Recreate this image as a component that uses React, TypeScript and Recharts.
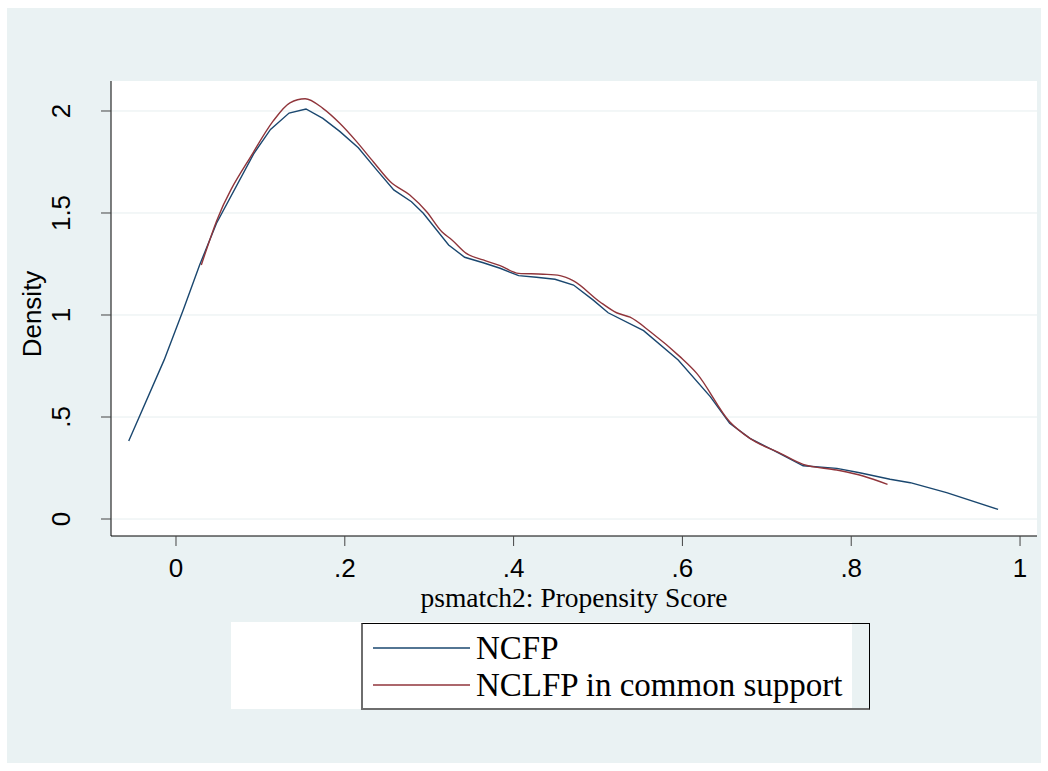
import { LineChart, Line, XAxis, YAxis, CartesianGrid, Label } from 'recharts'

// NCFP kernel density
const ncfpX = [
  -0.056, -0.014, 0.009, 0.028, 0.048, 0.092, 0.112, 0.134, 0.154, 0.174, 0.194, 0.216,
  0.238, 0.258, 0.279, 0.293, 0.323, 0.342, 0.364, 0.384, 0.406, 0.427, 0.449, 0.471,
  0.494, 0.512, 0.554, 0.595, 0.633, 0.656, 0.68, 0.716, 0.743, 0.783, 0.81, 0.846,
  0.87, 0.913, 0.974,
]
const ncfpY = [
  0.382, 0.78, 1.03, 1.245, 1.45, 1.79, 1.91, 1.99, 2.01, 1.964, 1.9, 1.82,
  1.71, 1.613, 1.555, 1.499, 1.343, 1.283, 1.256, 1.229, 1.193, 1.185, 1.175, 1.147,
  1.074, 1.011, 0.923, 0.779, 0.6, 0.469, 0.395, 0.319, 0.261, 0.248, 0.227, 0.195,
  0.178, 0.129, 0.047,
]

// NCLFP in common support
const nclfpX = [
  0.03, 0.048, 0.092, 0.115, 0.135, 0.153, 0.174, 0.194, 0.214, 0.234, 0.254, 0.277,
  0.297, 0.315, 0.327, 0.344, 0.364, 0.384, 0.406, 0.435, 0.455, 0.471, 0.502, 0.522,
  0.538, 0.562, 0.597, 0.617, 0.656, 0.68, 0.716, 0.743, 0.783, 0.814, 0.843,
]
const nclfpY = [
  1.245, 1.46, 1.8, 1.95, 2.04, 2.06, 2.013, 1.94, 1.85, 1.75, 1.653, 1.588,
  1.506, 1.408, 1.368, 1.302, 1.27, 1.242, 1.204, 1.2, 1.193, 1.167, 1.065, 1.011,
  0.989, 0.918, 0.796, 0.714, 0.477, 0.395, 0.322, 0.268, 0.24, 0.211, 0.17,
]

const xTicks = [0, 0.2, 0.4, 0.6, 0.8, 1]
const yTicks = [0, 0.5, 1, 1.5, 2]

const ncfp = ncfpX.map((x, i) => ({ x, y: ncfpY[i] }))
const nclfp = nclfpX.map((x, i) => ({ x, y: nclfpY[i] }))

const BLUE = '#1a476f'
const RED = '#90353b'
const BG = '#eaf2f3'
const SANS = '"Liberation Sans", Arial, sans-serif'
const SERIF = '"Liberation Serif", "Times New Roman", serif'

// stata style: 0 .2 .4 ... 1
const fmt = (v: number) => {
  const s = String(Math.round(v * 10) / 10)
  return s.startsWith('0.') ? s.slice(1) : s
}

const XTick = ({ x, y, payload }: any) => (
  <text x={x} y={y} textAnchor="middle" fontFamily={SANS} fontSize={26} fill="#000">
    {fmt(payload.value)}
  </text>
)

const YTick = ({ x, y, payload }: any) => (
  <text x={x} y={y} transform={`rotate(-90 ${x} ${y})`} textAnchor="middle"
    fontFamily={SANS} fontSize={26} fill="#000">
    {fmt(payload.value)}
  </text>
)

export default function App() {
  return (
    <div style={{ position: 'absolute', left: 0, top: 0, width: 1048, height: 771, background: '#fff' }}>
      <div style={{ position: 'absolute', left: 7, top: 8, width: 1034, height: 755, background: BG }} />
      <div style={{ position: 'absolute', left: 0, top: 0 }}>
        <LineChart width={1048} height={771} margin={{ top: 81, right: 11, bottom: 0, left: 0 }}>
          <CartesianGrid vertical={false} stroke="#e6eeef" fill="#fff" horizontalValues={yTicks} />
          <XAxis
            type="number" dataKey="x" domain={[-0.077, 1.0201]} allowDataOverflow
            ticks={xTicks} height={235} tickSize={10} tickMargin={31}
            tick={<XTick />} axisLine={{ stroke: '#000' }} tickLine={{ stroke: '#444' }}
          >
            <Label content={() => (
              <text x={574} y={607} textAnchor="middle" fontFamily={SERIF} fontSize={27.5} fill="#000">
                psmatch2: Propensity Score
              </text>
            )} />
          </XAxis>
          <YAxis
            type="number" dataKey="y" domain={[-0.0833, 2.147]} allowDataOverflow
            ticks={yTicks} width={111} tickSize={10} tickMargin={31}
            tick={<YTick />} axisLine={{ stroke: '#000' }} tickLine={{ stroke: '#444' }}
          >
            <Label content={() => (
              <text x={41} y={314} transform="rotate(-90 41 314)" textAnchor="middle"
                fontFamily={SANS} fontSize={26} fill="#000">
                Density
              </text>
            )} />
          </YAxis>
          <Line data={ncfp} dataKey="y" type="linear" stroke={BLUE} strokeWidth={1.4}
            dot={false} activeDot={false} isAnimationActive={false} />
          <Line data={nclfp} dataKey="y" type="monotone" stroke={RED} strokeWidth={1.4}
            dot={false} activeDot={false} isAnimationActive={false} />
        </LineChart>
      </div>
      {/* legend */}
      <div style={{ position: 'absolute', left: 231, top: 622, width: 621, height: 87, background: '#fff' }} />
      <div style={{
        position: 'absolute', left: 361, top: 623, width: 506, height: 84,
        borderTop: '1px solid #000', borderRight: '1px solid #000',
        borderLeft: '2px solid #6e6e6e', borderBottom: '2px solid #6e6e6e',
      }} />
      <svg width={1048} height={771} style={{ position: 'absolute', left: 0, top: 0, pointerEvents: 'none' }}>
        <line x1={373} x2={470} y1={648} y2={648} stroke={BLUE} strokeWidth={1.5} />
        <line x1={373} x2={470} y1={685} y2={685} stroke={RED} strokeWidth={1.5} />
        <text x={476} y={659} fontFamily={SERIF} fontSize={33} fill="#000">NCFP</text>
        <text x={476} y={696} fontFamily={SERIF} fontSize={33} fill="#000">NCLFP in common support</text>
      </svg>
    </div>
  )
}
